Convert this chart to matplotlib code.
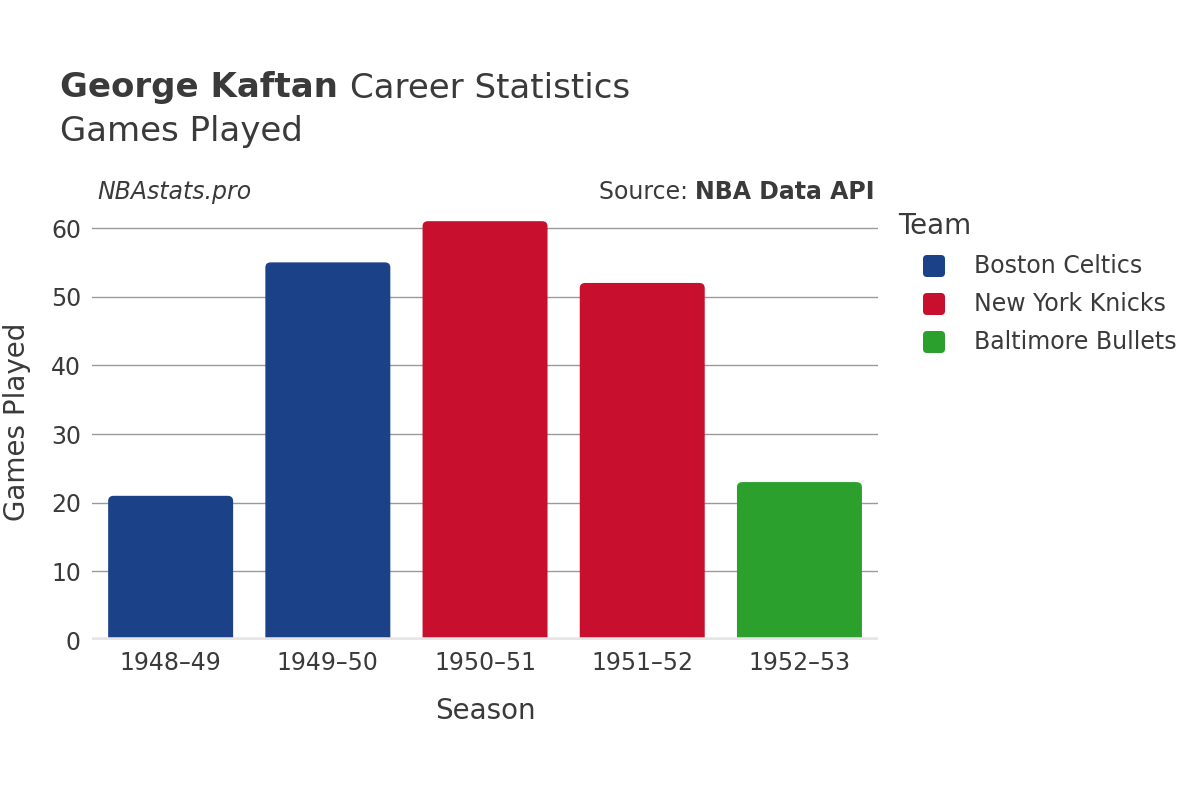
import matplotlib
matplotlib.use("Agg")
import matplotlib.pyplot as plt
from matplotlib.patches import FancyBboxPatch
from matplotlib.transforms import IdentityTransform
import numpy as np

seasons = ["1948–49", "1949–50", "1950–51", "1951–52", "1952–53"]
games = [21, 55, 61, 52, 23]
teams = ["Boston Celtics", "Boston Celtics", "New York Knicks", "New York Knicks", "Baltimore Bullets"]
team_order = ["Boston Celtics", "New York Knicks", "Baltimore Bullets"]
team_colors = {"Boston Celtics": "#1b4288", "New York Knicks": "#c8102e", "Baltimore Bullets": "#2ca02c"}

txt = "#3a3a3a"
plt.rcParams["font.family"] = "DejaVu Sans"

fig = plt.figure(figsize=(12, 8), dpi=100)
ax = fig.add_axes([0.0767, 0.2, 0.655, 0.545])

x = np.arange(len(seasons))
ax.set_xlim(-0.5, len(seasons) - 0.5)
ax.set_ylim(0, 63.5)

# bars with rounded corners, bottom corners hidden below zero
bw = 0.795
r = 0.035
asp = 0.75 / r
for xi, g, t in zip(x, games, teams):
    p = FancyBboxPatch((xi - bw / 2, -2), bw, g + 2,
                       boxstyle=f"round,pad=0,rounding_size={r}",
                       mutation_aspect=asp, facecolor=team_colors[t],
                       edgecolor="none", zorder=3, clip_on=True)
    ax.add_patch(p)

ax.set_yticks([0, 10, 20, 30, 40, 50, 60])
ax.grid(axis="y", color="#9a9a9a", linewidth=1, zorder=0)
ax.axhline(0, color="#e6e6e6", linewidth=4, zorder=4)
for s in ax.spines.values():
    s.set_visible(False)
ax.tick_params(axis="both", length=0, labelsize=17, colors=txt, pad=8)
ax.set_xticks(x)
ax.set_xticklabels(seasons)
ax.set_xlabel("Season", fontsize=20, color=txt, labelpad=16)
ax.set_ylabel("Games Played", fontsize=20, color=txt, labelpad=14)

renderer = fig.canvas.get_renderer()

# title
t1 = fig.text(0.05, 1 - 88 / 800, "George Kaftan ", fontsize=24.5, fontweight="bold", color=txt, va="center")
w1 = t1.get_window_extent(renderer).width / 1200
fig.text(0.05 + w1, 1 - 88 / 800, "Career Statistics", fontsize=24.5, color=txt, va="center")
fig.text(0.05, 1 - 132 / 800, "Games Played", fontsize=24.5, color=txt, va="center")

# annotations
ys = 1 - 192 / 800
fig.text(0.081, ys, "NBAstats.pro", fontsize=17, style="italic", color=txt, va="center")
t2 = fig.text(0.729, ys, "NBA Data API", fontsize=17, fontweight="bold", color=txt, va="center", ha="right")
w2 = t2.get_window_extent(renderer).width / 1200
fig.text(0.729 - w2, ys, "Source: ", fontsize=17, color=txt, va="center", ha="right")

# legend
fig.text(898 / 1200, 1 - 226 / 800, "Team", fontsize=20, color=txt, va="center")
for i, t in enumerate(team_order):
    yc = 266 + 38 * i
    sq = FancyBboxPatch((923, 800 - yc - 11), 22, 22,
                        boxstyle="round,pad=0,rounding_size=4",
                        facecolor=team_colors[t], edgecolor="none",
                        transform=IdentityTransform())
    fig.patches.append(sq)
    fig.text(974 / 1200, 1 - yc / 800, t, fontsize=17, color=txt, va="center")

fig.savefig("out.png", dpi=100)
